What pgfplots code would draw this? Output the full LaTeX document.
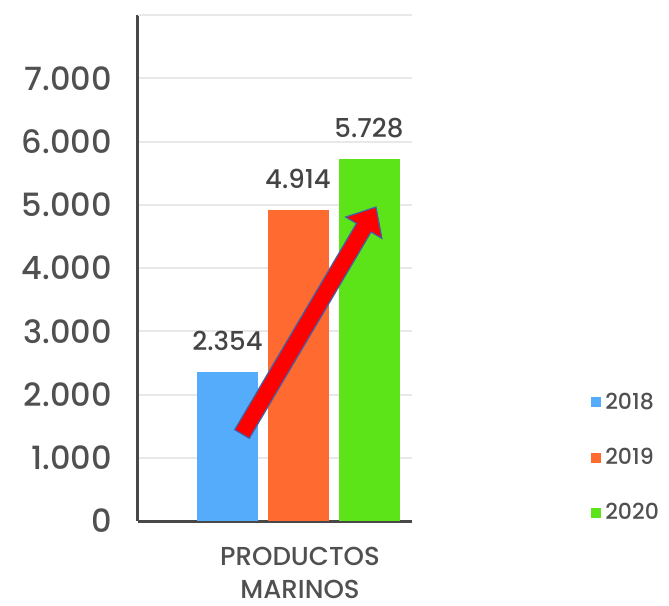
\documentclass[border=0pt]{standalone}
\usepackage{fontspec}
\setmainfont{Poppins Medium}
\usepackage{pgfplots}
\pgfplotsset{compat=1.18}
\definecolor{cA}{RGB}{85,172,250}
\definecolor{cB}{RGB}{255,106,48}
\definecolor{cC}{RGB}{92,228,24}
\definecolor{txt}{RGB}{80,80,80}
\definecolor{arrowedge}{RGB}{60,100,170}
\begin{document}
\begin{tikzpicture}
\useasboundingbox (-69pt,-42pt) rectangle (265.5pt,260.5pt);
\begin{axis}[
  at={(0,0)}, anchor=south west,
  scale only axis, width=137pt, height=253pt,
  xmin=0, xmax=274, ymin=0, ymax=8000,
  axis x line*=bottom, axis y line*=left,
  axis line style={line width=1.5pt, color=txt!90!black},
  major tick length=0pt,
  ytick={0,1000,...,7000},
  extra y ticks={8000}, extra y tick labels={},
  extra y tick style={grid=major},
  ymajorgrids,
  grid style={color=black!9, line width=1pt},
  /pgf/number format/.cd, 1000 sep={.}, assume math mode=true,
  /pgfplots/.cd,
  yticklabel style={anchor=east, inner sep=0pt, xshift=-13pt, font=\fontsize{16}{18}\selectfont, text=txt},
  xtick={162}, xticklabels={PRODUCTOS\\MARINOS},
  xticklabel style={align=center, anchor=north, inner sep=0pt, yshift=-13pt, font=\fontsize{13}{16.5}\selectfont, text=txt},
  bar width=61, bar shift=0pt,
  nodes near coords,
  nodes near coords style={font=\fontsize{13}{15}\selectfont, text=txt!85!black, yshift=7pt, /pgf/number format/1000 sep={.}},
  legend style={at={(1.631,0.27)}, anchor=north west, draw=none, fill=none,
    font=\fontsize{11}{13}\selectfont, text=txt, row sep=14pt,
    cells={anchor=west}},
  legend image code/.code={\fill[#1] (0pt,-2.5pt) rectangle (5pt,2.5pt);},
]
\addplot[ybar, fill=cA, draw=none] coordinates {(89.5,2354)};
\addlegendentry{2018}
\addplot[ybar, fill=cB, draw=none] coordinates {(160,4914)};
\addlegendentry{2019}
\addplot[ybar, fill=cC, draw=none] coordinates {(231,5728)};
\addlegendentry{2020}
\draw[fill=red, draw=arrowedge, line width=0.6pt]
  (axis cs:96.7,1443) -- (axis cs:218.5,4705) -- (axis cs:207.7,4806) --
  (axis cs:238,4964) -- (axis cs:243.9,4468) -- (axis cs:233.1,4569) --
  (axis cs:111.3,1307) -- cycle;
\end{axis}
\end{tikzpicture}
\end{document}
